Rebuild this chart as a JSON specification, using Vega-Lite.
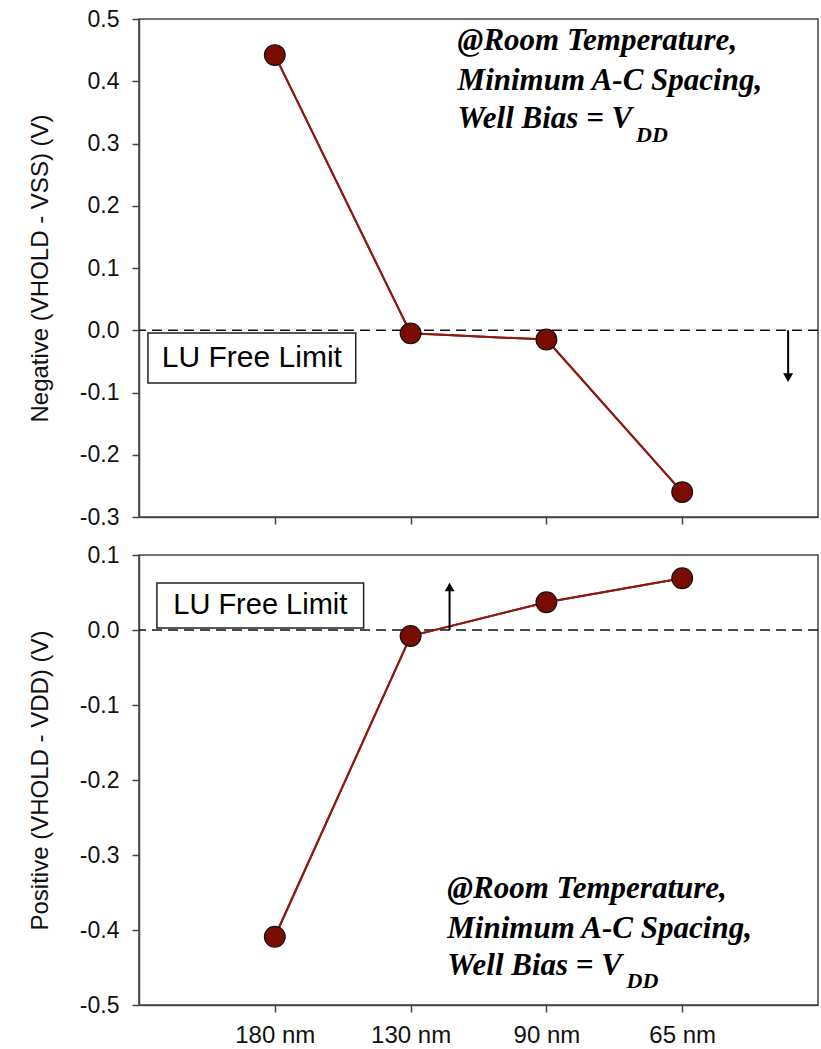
{
  "$schema": "https://vega.github.io/schema/vega-lite/v6.json",
  "background": "white",
  "autosize": {"type": "pad"},
  "padding": {"left": 27, "top": 7, "right": 2, "bottom": 0},
  "spacing": 13,
  "config": {
    "view": {"stroke": "#444", "strokeWidth": 1.5},
    "font": "Liberation Sans",
    "axis": {
      "grid": false,
      "domainColor": "#444",
      "domainWidth": 1.5,
      "tickColor": "#444",
      "tickWidth": 1.5,
      "tickSize": 7,
      "labelFont": "Liberation Sans",
      "labelFontSize": 23,
      "labelColor": "#111",
      "titleFont": "Liberation Sans",
      "titleFontSize": 24,
      "titleFontWeight": "normal",
      "titleColor": "#111"
    },
    "axisY": {"labelPadding": 13, "titlePadding": 27},
    "axisX": {"labelPadding": 11, "labelFontSize": 24}
  },
  "datasets": {
    "negative": [
      {"node": "180 nm", "pos": 1, "value": 0.442},
      {"node": "130 nm", "pos": 2, "value": -0.005},
      {"node": "90 nm", "pos": 3, "value": -0.015},
      {"node": "65 nm", "pos": 4, "value": -0.26}
    ],
    "positive": [
      {"node": "180 nm", "pos": 1, "value": -0.409},
      {"node": "130 nm", "pos": 2, "value": -0.008},
      {"node": "90 nm", "pos": 3, "value": 0.037},
      {"node": "65 nm", "pos": 4, "value": 0.069}
    ],
    "negNotes": [
      {"role": "main", "x": 2.346, "y": 0.45, "text": "@Room Temperature,"},
      {"role": "main", "x": 2.346, "y": 0.386, "text": "Minimum A-C Spacing,"},
      {"role": "main", "x": 2.346, "y": 0.325, "text": "Well Bias = V"},
      {"role": "sub", "x": 3.66, "y": 0.302, "text": "DD"},
      {"role": "box", "x": 0.066, "x2": 1.596, "y": -0.0044, "y2": -0.0847},
      {"role": "label", "x": 0.831, "y": -0.0446, "text": "LU Free Limit"},
      {"role": "arrow", "x": 4.78, "y": 0, "y2": -0.072},
      {"role": "head", "x": 4.78, "y": -0.076, "shape": "triangle-down"}
    ],
    "posNotes": [
      {"role": "main", "x": 2.27, "y": -0.357, "text": "@Room Temperature,"},
      {"role": "main", "x": 2.27, "y": -0.411, "text": "Minimum A-C Spacing,"},
      {"role": "main", "x": 2.27, "y": -0.46, "text": "Well Bias = V"},
      {"role": "sub", "x": 3.59, "y": -0.477, "text": "DD"},
      {"role": "box", "x": 0.132, "x2": 1.654, "y": 0.0627, "y2": 0.0027},
      {"role": "label", "x": 0.893, "y": 0.0327, "text": "LU Free Limit"},
      {"role": "arrow", "x": 2.287, "y": 0, "y2": 0.054},
      {"role": "head", "x": 2.287, "y": 0.0573, "shape": "triangle-up"}
    ]
  },
  "vconcat": [
    {
      "width": 679,
      "height": 498,
      "layer": [
        {
          "data": {"name": "negative"},
          "mark": {"type": "line", "color": "#8b1a12", "strokeWidth": 2},
          "encoding": {
            "x": {"field": "pos", "type": "quantitative", "scale": {"domain": [0, 5], "nice": false, "zero": false},
                  "axis": {"values": [1, 2, 3, 4], "labels": false, "title": null}},
            "y": {"field": "value", "type": "quantitative", "scale": {"domain": [-0.3, 0.5], "nice": false, "zero": false},
                  "axis": {"values": [-0.3, -0.2, -0.1, 0, 0.1, 0.2, 0.3, 0.4, 0.5], "labelExpr": "replace(format(datum.value, '.1f'), '\u2212', '-')", "title": "Negative (VHOLD - VSS) (V)"}}
          }
        },
        {
          "data": {"values": [{}]},
          "mark": {"type": "rule", "strokeDash": [10, 6], "strokeWidth": 1.5, "color": "#111"},
          "encoding": {"y": {"datum": 0, "type": "quantitative"}}
        },
        {
          "data": {"name": "negNotes"},
          "transform": [{"filter": "datum.role === 'box'"}],
          "mark": {"type": "rect", "fill": "white", "stroke": "#222", "strokeWidth": 1.5},
          "encoding": {
            "x": {"field": "x", "type": "quantitative"},
            "x2": {"field": "x2"},
            "y": {"field": "y", "type": "quantitative"},
            "y2": {"field": "y2"}
          }
        },
        {
          "data": {"name": "negNotes"},
          "transform": [{"filter": "datum.role === 'label'"}],
          "mark": {"type": "text", "font": "Liberation Sans", "fontSize": 30, "align": "center", "baseline": "middle", "color": "#000"},
          "encoding": {
            "x": {"field": "x", "type": "quantitative"},
            "y": {"field": "y", "type": "quantitative"},
            "text": {"field": "text"}
          }
        },
        {
          "data": {"name": "negative"},
          "mark": {"type": "line", "color": "#8b1a12", "strokeWidth": 2},
          "encoding": {
            "x": {"field": "pos", "type": "quantitative"},
            "y": {"field": "value", "type": "quantitative"}
          }
        },
        {
          "data": {"name": "negative"},
          "mark": {"type": "point", "shape": "circle", "filled": true, "fill": "#7a0c02", "stroke": "#111", "strokeWidth": 1.2, "size": 430, "opacity": 1},
          "encoding": {
            "x": {"field": "pos", "type": "quantitative"},
            "y": {"field": "value", "type": "quantitative"}
          }
        },
        {
          "data": {"name": "negNotes"},
          "transform": [{"filter": "datum.role === 'arrow'"}],
          "mark": {"type": "rule", "color": "#000", "strokeWidth": 2},
          "encoding": {
            "x": {"field": "x", "type": "quantitative"},
            "y": {"field": "y", "type": "quantitative"},
            "y2": {"field": "y2"}
          }
        },
        {
          "data": {"name": "negNotes"},
          "transform": [{"filter": "datum.role === 'head'"}],
          "mark": {"type": "point", "filled": true, "color": "#000", "size": 100, "opacity": 1},
          "encoding": {
            "x": {"field": "x", "type": "quantitative"},
            "y": {"field": "y", "type": "quantitative"},
            "shape": {"field": "shape", "type": "nominal", "scale": null}
          }
        },
        {
          "data": {"name": "negNotes"},
          "transform": [{"filter": "datum.role === 'main'"}],
          "mark": {"type": "text", "font": "Liberation Serif", "fontStyle": "italic", "fontWeight": "bold", "fontSize": 31, "align": "left", "baseline": "alphabetic", "color": "#000"},
          "encoding": {
            "x": {"field": "x", "type": "quantitative"},
            "y": {"field": "y", "type": "quantitative"},
            "text": {"field": "text"}
          }
        },
        {
          "data": {"name": "negNotes"},
          "transform": [{"filter": "datum.role === 'sub'"}],
          "mark": {"type": "text", "font": "Liberation Serif", "fontStyle": "italic", "fontWeight": "bold", "fontSize": 22, "align": "left", "baseline": "alphabetic", "color": "#000"},
          "encoding": {
            "x": {"field": "x", "type": "quantitative"},
            "y": {"field": "y", "type": "quantitative"},
            "text": {"field": "text"}
          }
        }
      ]
    },
    {
      "width": 679,
      "height": 450,
      "layer": [
        {
          "data": {"name": "positive"},
          "mark": {"type": "line", "color": "#8b1a12", "strokeWidth": 2},
          "encoding": {
            "x": {"field": "pos", "type": "quantitative", "scale": {"domain": [0, 5], "nice": false, "zero": false},
                  "axis": {"values": [1, 2, 3, 4], "title": null, "labelExpr": "datum.value == 1 ? '180 nm' : datum.value == 2 ? '130 nm' : datum.value == 3 ? '90 nm' : '65 nm'"}},
            "y": {"field": "value", "type": "quantitative", "scale": {"domain": [-0.5, 0.1], "nice": false, "zero": false},
                  "axis": {"values": [-0.5, -0.4, -0.3, -0.2, -0.1, 0, 0.1], "labelExpr": "replace(format(datum.value, '.1f'), '\u2212', '-')", "title": "Positive (VHOLD - VDD) (V)"}}
          }
        },
        {
          "data": {"values": [{}]},
          "mark": {"type": "rule", "strokeDash": [10, 6], "strokeWidth": 1.5, "color": "#111"},
          "encoding": {"y": {"datum": 0, "type": "quantitative"}}
        },
        {
          "data": {"name": "posNotes"},
          "transform": [{"filter": "datum.role === 'box'"}],
          "mark": {"type": "rect", "fill": "white", "stroke": "#222", "strokeWidth": 1.5},
          "encoding": {
            "x": {"field": "x", "type": "quantitative"},
            "x2": {"field": "x2"},
            "y": {"field": "y", "type": "quantitative"},
            "y2": {"field": "y2"}
          }
        },
        {
          "data": {"name": "posNotes"},
          "transform": [{"filter": "datum.role === 'label'"}],
          "mark": {"type": "text", "font": "Liberation Sans", "fontSize": 29, "align": "center", "baseline": "middle", "color": "#000"},
          "encoding": {
            "x": {"field": "x", "type": "quantitative"},
            "y": {"field": "y", "type": "quantitative"},
            "text": {"field": "text"}
          }
        },
        {
          "data": {"name": "positive"},
          "mark": {"type": "line", "color": "#8b1a12", "strokeWidth": 2},
          "encoding": {
            "x": {"field": "pos", "type": "quantitative"},
            "y": {"field": "value", "type": "quantitative"}
          }
        },
        {
          "data": {"name": "positive"},
          "mark": {"type": "point", "shape": "circle", "filled": true, "fill": "#7a0c02", "stroke": "#111", "strokeWidth": 1.2, "size": 430, "opacity": 1},
          "encoding": {
            "x": {"field": "pos", "type": "quantitative"},
            "y": {"field": "value", "type": "quantitative"}
          }
        },
        {
          "data": {"name": "posNotes"},
          "transform": [{"filter": "datum.role === 'arrow'"}],
          "mark": {"type": "rule", "color": "#000", "strokeWidth": 2},
          "encoding": {
            "x": {"field": "x", "type": "quantitative"},
            "y": {"field": "y", "type": "quantitative"},
            "y2": {"field": "y2"}
          }
        },
        {
          "data": {"name": "posNotes"},
          "transform": [{"filter": "datum.role === 'head'"}],
          "mark": {"type": "point", "filled": true, "color": "#000", "size": 100, "opacity": 1},
          "encoding": {
            "x": {"field": "x", "type": "quantitative"},
            "y": {"field": "y", "type": "quantitative"},
            "shape": {"field": "shape", "type": "nominal", "scale": null}
          }
        },
        {
          "data": {"name": "posNotes"},
          "transform": [{"filter": "datum.role === 'main'"}],
          "mark": {"type": "text", "font": "Liberation Serif", "fontStyle": "italic", "fontWeight": "bold", "fontSize": 31, "align": "left", "baseline": "alphabetic", "color": "#000"},
          "encoding": {
            "x": {"field": "x", "type": "quantitative"},
            "y": {"field": "y", "type": "quantitative"},
            "text": {"field": "text"}
          }
        },
        {
          "data": {"name": "posNotes"},
          "transform": [{"filter": "datum.role === 'sub'"}],
          "mark": {"type": "text", "font": "Liberation Serif", "fontStyle": "italic", "fontWeight": "bold", "fontSize": 22, "align": "left", "baseline": "alphabetic", "color": "#000"},
          "encoding": {
            "x": {"field": "x", "type": "quantitative"},
            "y": {"field": "y", "type": "quantitative"},
            "text": {"field": "text"}
          }
        }
      ]
    }
  ]
}
